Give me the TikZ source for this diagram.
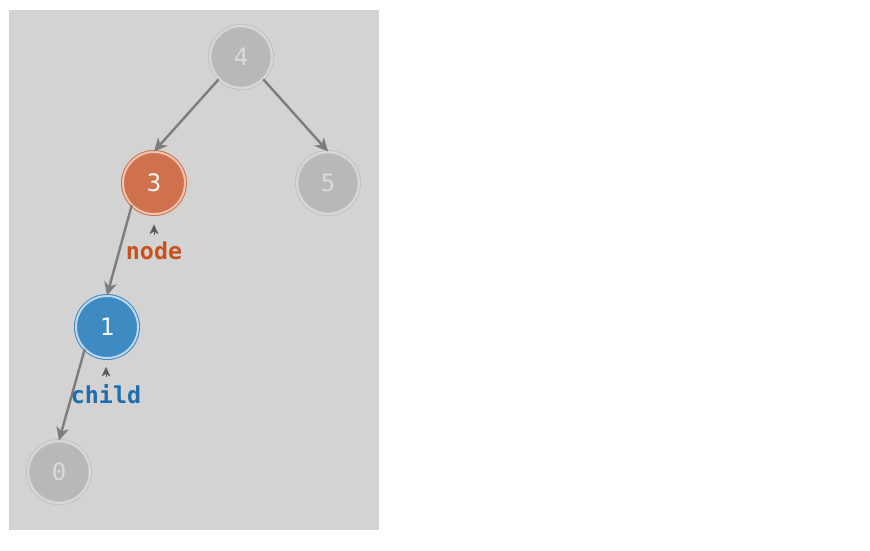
\documentclass[tikz,border=0pt]{standalone}
\usepackage{fontspec}
\setmonofont{DejaVu Sans Mono}
\usetikzlibrary{arrows.meta}

\definecolor{panelgray}{RGB}{211,211,211}
\definecolor{nodegray}{RGB}{184,184,184}
\definecolor{ringgray}{RGB}{216,216,216}
\definecolor{edgering}{RGB}{194,194,194}
\definecolor{textgray}{RGB}{218,218,218}
\definecolor{nodeorange}{RGB}{207,113,76}
\definecolor{ringorange}{RGB}{238,196,178}
\definecolor{nodeblue}{RGB}{62,139,196}
\definecolor{ringblue}{RGB}{192,216,236}
\definecolor{labelorange}{RGB}{200,82,30}
\definecolor{labelblue}{RGB}{30,110,172}
\definecolor{edgegray}{RGB}{125,125,125}

\tikzset{
  treenode/.style={circle, minimum size=46.5pt, inner sep=0pt, line width=0.75pt,
    double distance=1.5pt, font=\ttfamily\fontsize{18}{18}\selectfont},
  greynode/.style={treenode, fill=nodegray, draw=edgering, double=ringgray, text=textgray},
  orangenode/.style={treenode, fill=nodeorange, draw=nodeorange, double=ringorange, text=white!94!nodeorange},
  bluenode/.style={treenode, fill=nodeblue, draw=nodeblue, double=ringblue, text=white!94!nodeblue},
  treeedge/.style={draw=edgegray, line width=1.8pt, -{Stealth[length=10pt,width=9.5pt,inset=3pt]}},
  varlabel/.style={font=\ttfamily\bfseries\fontsize{17.5}{17.5}\selectfont, inner sep=0.75pt},
  pointer/.style={draw=black!65, line width=0.1pt, -{Stealth[length=7pt,width=6.5pt,inset=2pt]}}
}

\begin{document}
\begin{tikzpicture}[x=0.75pt,y=0.75pt,yscale=-1,xscale=1]
\useasboundingbox (0,0) rectangle (870,550);

%Shape: Panel
\fill [white] (0,0) rectangle (870,550);
\fill [panelgray] (9,10) rectangle (379,530);

% Tree Nodes
\node [greynode] (n4) at (241,57) {4};
\node [orangenode] (n3) at (154,183) {3};
\node [greynode] (n5) at (328,183) {5};
\node [bluenode] (n1) at (107,327) {1};
\node [greynode] (n0) at (59,472) {0};

% Edges
\draw [treeedge] (n4.south west) -- (n3.north);
\draw [treeedge] (n4.south east) -- (n5.north);
\draw [treeedge] (n3.south west) -- (n1.north);
\draw [treeedge] (n1.south west) -- (n0.north);

% Text Node
\node [varlabel, text=labelorange] (lnode) at (154,251) {node};
% Text Node
\node [varlabel, text=labelblue] (lchild) at (106,394) {child};

% Pointers
\draw [pointer] ([yshift=-4.5pt]lnode.north) -- ++(0,-10);
\draw [pointer] ([yshift=-4.5pt]lchild.north) -- ++(0,-10);

\end{tikzpicture}
\end{document}
